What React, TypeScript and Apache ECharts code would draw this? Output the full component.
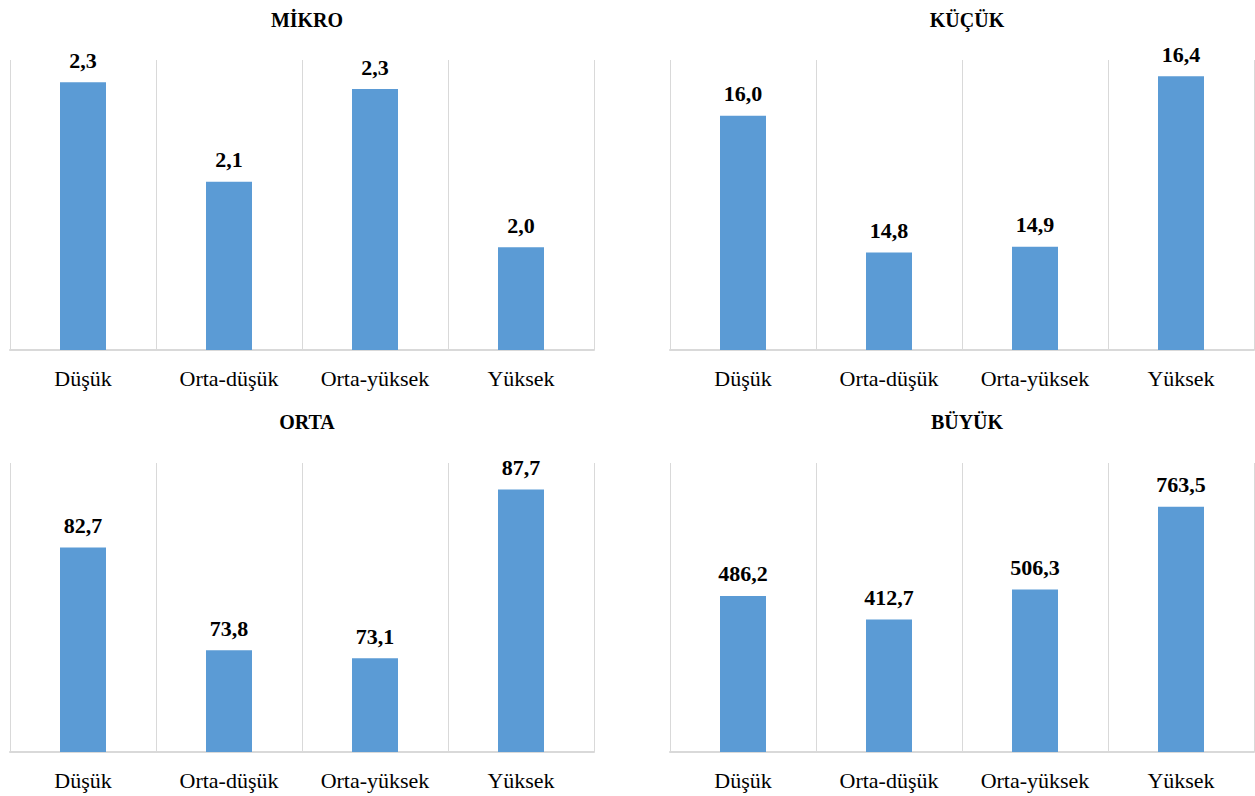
import React, { useEffect, useRef } from "react";
import * as echarts from "echarts";

const categories = ["Düşük", "Orta-düşük", "Orta-yüksek", "Yüksek"];
const panelTitles = ["MİKRO", "KÜÇÜK", "ORTA", "BÜYÜK"];
const mikroValues = [2.308, 2.119, 2.295, 1.995];
const kucukValues = [16.02, 14.84, 14.89, 16.36];
const ortaValues = [82.7, 73.8, 73.1, 87.7];
const buyukValues = [486.2, 412.7, 506.3, 763.5];
const axisMins = [1.8, 14, 65, 0];
const axisMaxs = [2.35, 16.5, 90, 900];

const FONT = "Times New Roman, Liberation Serif, DejaVu Serif, serif";

export default function App() {
  const ref = useRef<HTMLDivElement>(null);
  useEffect(() => {
    if (!ref.current) return;
    const chart = echarts.init(ref.current, null, { renderer: "svg" });
    const allValues = [mikroValues, kucukValues, ortaValues, buyukValues];
    const grids = [
      { left: 10, top: 60, width: 584, height: 290 },
      { left: 670, top: 60, width: 584, height: 290 },
      { left: 10, top: 463, width: 584, height: 289 },
      { left: 670, top: 463, width: 584, height: 289 },
    ];
    const option: any = {
      animation: false,
      backgroundColor: "#ffffff",
      textStyle: { fontFamily: FONT },
      title: grids.map((g, i) => ({
        text: panelTitles[i],
        left: g.left + g.width / 2,
        textAlign: "center",
        top: i < 2 ? 5 : 407,
        textStyle: { fontFamily: FONT, fontWeight: "bold", fontSize: 20, color: "#000" },
      })),
      grid: grids.map((g) => ({ ...g, containLabel: false })),
      xAxis: grids.map((_, i) => ({
        type: "category",
        gridIndex: i,
        data: categories,
        axisLine: { show: true, lineStyle: { color: "#d9d9d9", width: 2 } },
        axisTick: { show: false },
        splitLine: { show: true, lineStyle: { color: "#d9d9d9", width: 1 } },
        axisLabel: { fontFamily: FONT, fontSize: 22, color: "#000", margin: 17 },
      })),
      yAxis: grids.map((_, i) => ({
        type: "value",
        gridIndex: i,
        min: axisMins[i],
        max: axisMaxs[i],
        show: false,
        splitLine: { show: false },
      })),
      series: allValues.map((vals, i) => ({
        type: "bar",
        xAxisIndex: i,
        yAxisIndex: i,
        data: vals,
        barWidth: 46,
        itemStyle: { color: "#5b9bd5" },
        label: {
          show: true,
          position: "top",
          distance: 11,
          fontFamily: FONT,
          fontWeight: "bold",
          fontSize: 22,
          color: "#000",
          formatter: (p: any) => Number(p.value).toFixed(1).replace(".", ","),
        },
      })),
    };
    chart.setOption(option);
    return () => chart.dispose();
  }, []);
  return (
    <div
      ref={ref}
      style={{ position: "fixed", left: 0, top: 0, width: 1255, height: 796 }}
    />
  );
}
